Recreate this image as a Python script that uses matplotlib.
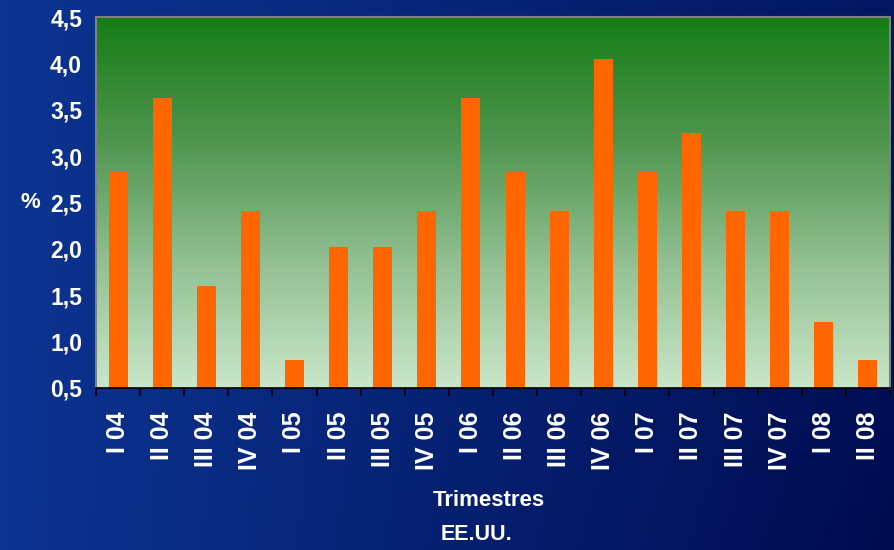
import numpy as np
import matplotlib
matplotlib.use("Agg")
import matplotlib.pyplot as plt
from matplotlib.colors import LinearSegmentedColormap

plt.rcParams["font.family"] = ["Liberation Sans", "DejaVu Sans"]

trimestres = ["I 04", "II 04", "III 04", "IV 04",
              "I 05", "II 05", "III 05", "IV 05",
              "I 06", "II 06", "III 06", "IV 06",
              "I 07", "II 07", "III 07", "IV 07",
              "I 08", "II 08"]
valores = [2.83, 3.63, 1.60, 2.41, 0.80, 2.02, 2.02, 2.41, 3.63,
           2.83, 2.41, 4.05, 2.83, 3.25, 2.41, 2.41, 1.21, 0.80]
y_ticks = [0.5, 1.0, 1.5, 2.0, 2.5, 3.0, 3.5, 4.0, 4.5]

fig = plt.figure(figsize=(8.94, 5.5), dpi=100)

# fondo azul degradado
bg = fig.add_axes([0, 0, 1, 1], zorder=-10)
gx = np.linspace(0, 1, 256)
gy = np.linspace(0, 1, 64)
X, Y = np.meshgrid(gx, gy)
t = np.clip(0.75 * X + 0.25 * (1 - Y) * X, 0, 1)
c0 = np.array([12, 52, 145]) / 255
c1 = np.array([0, 12, 80]) / 255
img = c0[None, None, :] * (1 - t[..., None]) + c1[None, None, :] * t[..., None]
bg.imshow(img, aspect="auto", extent=[0, 1, 0, 1], origin="lower")
bg.axis("off")

ax = fig.add_axes([96 / 894, 1 - 388 / 550, (890 - 96) / 894, (388 - 17) / 550])
x = np.arange(len(valores))

# fondo verde degradado del área de trazado
cmap = LinearSegmentedColormap.from_list("verde", ["#c9e6c9", "#93c093", "#4f954f", "#157d15"])
ax.imshow(np.linspace(0, 1, 256).reshape(-1, 1), cmap=cmap, aspect="auto",
          extent=[-0.5, len(valores) - 0.5, 0.5, 4.5], origin="lower", zorder=0)

ax.bar(x, [v - 0.5 for v in valores], bottom=0.5, width=0.43, color="#ff6600", zorder=2)

ax.set_xlim(-0.5, len(valores) - 0.5)
ax.set_ylim(0.5, 4.5)
ax.set_yticks(y_ticks)
ax.set_yticklabels([f"{v:.1f}".replace(".", ",") for v in y_ticks],
                   color="white", fontsize=16.5, fontweight="bold")
ax.tick_params(axis="y", length=0, pad=10)

ax.set_xticks(x)
ax.set_xticklabels(trimestres, rotation=90, color="white", fontsize=18,
                   fontweight="bold", va="top", ha="center")
ax.set_xticks(np.arange(len(valores) + 1) - 0.5, minor=True)
ax.tick_params(axis="x", which="major", length=0, pad=17)
ax.tick_params(axis="x", which="minor", length=6, width=1.2, color="black", direction="out")

for s in ["top", "right", "left"]:
    ax.spines[s].set_color("#808080")
    ax.spines[s].set_linewidth(1.5)
ax.spines["bottom"].set_color("black")
ax.spines["bottom"].set_linewidth(1.2)

fig.text(30 / 894, 1 - 203 / 550, "%", color="white", fontsize=16,
         fontweight="bold", ha="center", va="center")
fig.text(489 / 894, 1 - 501 / 550, "Trimestres", color="white", fontsize=16,
         fontweight="bold", ha="center", va="center")
fig.text(477 / 894, 1 - 534 / 550, "EE.UU.", color="white", fontsize=15.5,
         fontweight="bold", ha="center", va="center")

fig.savefig("out.png", dpi=100)
